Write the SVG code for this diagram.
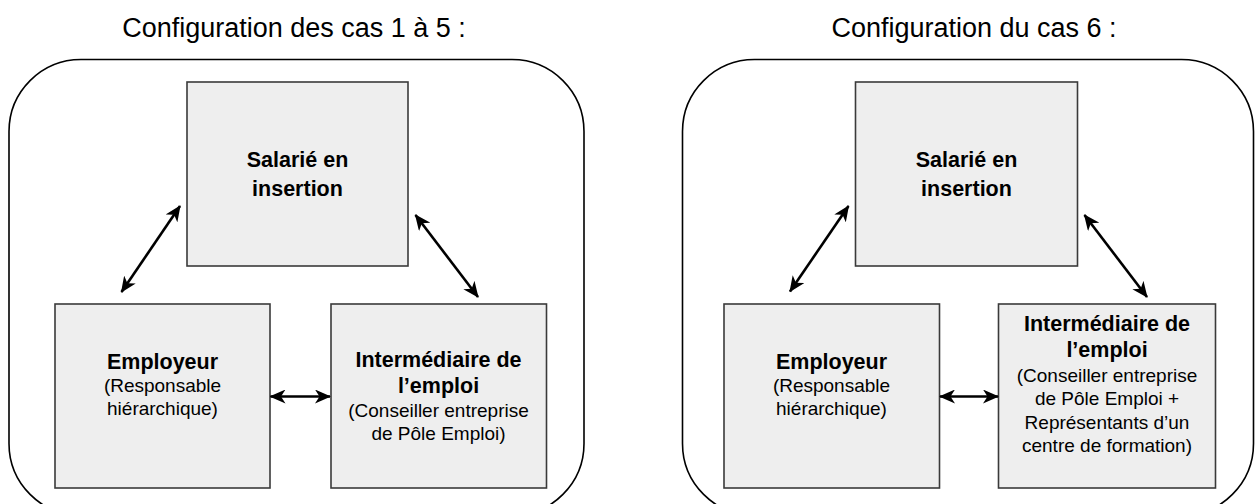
<svg xmlns="http://www.w3.org/2000/svg" width="1255" height="504" viewBox="0 0 1255 504">
<defs>
<style>
.title{font-family:"Liberation Sans",Arial,sans-serif;font-size:27px;fill:#000;text-anchor:middle}
.b{font-family:"Liberation Sans",Arial,sans-serif;font-size:21.5px;font-weight:bold;fill:#000;text-anchor:middle}
.r{font-family:"Liberation Sans",Arial,sans-serif;font-size:19px;fill:#000;text-anchor:middle}
.frame{fill:none;stroke:#000;stroke-width:1.6}
.box{fill:#eeeeee;stroke:#3a3a3a;stroke-width:1.6}
.conn{fill:none;stroke:#000;stroke-width:2.6;marker-start:url(#arr);marker-end:url(#arr)}
</style>
<marker id="arr" markerUnits="userSpaceOnUse" viewBox="0 0 16 14" refX="15" refY="7" markerWidth="16" markerHeight="14" orient="auto-start-reverse">
<path d="M0,0 L16,7 L0,14 L4.5,7 Z" fill="#000"/>
</marker>
</defs>
<rect width="1255" height="504" fill="#fff"/>

<g id="panel-left">
<text class="title" x="294" y="37">Configuration des cas 1 à 5 :</text>
<rect class="frame" x="9" y="59.5" width="575" height="456" rx="72" ry="72"/>
</g>
<g id="panel-right">
<text class="title" x="974" y="37">Configuration du cas 6 :</text>
<rect class="frame" x="682.5" y="59.5" width="571" height="456" rx="72" ry="72"/>
</g>

<g id="salarie-1">
<rect class="box" x="187" y="82" width="221" height="184"/>
<text class="b" x="297.5" y="167">Salarié en</text>
<text class="b" x="297.5" y="195.5">insertion</text>
</g>
<g id="employeur-1">
<rect class="box" x="55" y="304" width="215" height="184"/>
<text class="b" x="162.5" y="369">Employeur</text>
<text class="r" x="162.5" y="391.5">(Responsable</text>
<text class="r" x="162.5" y="415">hiérarchique)</text>
</g>
<g id="intermediaire-1">
<rect class="box" x="331" y="304" width="215.5" height="184"/>
<text class="b" x="438.5" y="367">Intermédiaire de</text>
<text class="b" x="438.5" y="393">l’emploi</text>
<text class="r" x="438.5" y="417">(Conseiller entreprise</text>
<text class="r" x="438.5" y="440">de Pôle Emploi)</text>
</g>

<g id="salarie-2">
<rect class="box" x="855.5" y="82" width="222" height="184"/>
<text class="b" x="966.5" y="167">Salarié en</text>
<text class="b" x="966.5" y="195.5">insertion</text>
</g>
<g id="employeur-2">
<rect class="box" x="724" y="304" width="215.5" height="184"/>
<text class="b" x="831.5" y="369">Employeur</text>
<text class="r" x="831.5" y="391.5">(Responsable</text>
<text class="r" x="831.5" y="415">hiérarchique)</text>
</g>
<g id="intermediaire-2">
<rect class="box" x="998.5" y="304" width="217" height="184"/>
<text class="b" x="1107" y="330.5">Intermédiaire de</text>
<text class="b" x="1107" y="356.5">l’emploi</text>
<text class="r" x="1107" y="381.5">(Conseiller entreprise</text>
<text class="r" x="1107" y="405">de Pôle Emploi +</text>
<text class="r" x="1107" y="428.5">Représentants d’un</text>
<text class="r" x="1107" y="451.5">centre de formation)</text>
</g>

<g id="connectors">
<line class="conn" x1="121.5" y1="292" x2="180" y2="206"/>
<line class="conn" x1="415.5" y1="215" x2="478" y2="297"/>
<line class="conn" x1="270.5" y1="396.5" x2="330" y2="396.5"/>
<line class="conn" x1="790" y1="291.5" x2="848.5" y2="206"/>
<line class="conn" x1="1084.5" y1="215" x2="1147" y2="297"/>
<line class="conn" x1="940" y1="396.5" x2="998" y2="396.5"/>
</g>
</svg>
